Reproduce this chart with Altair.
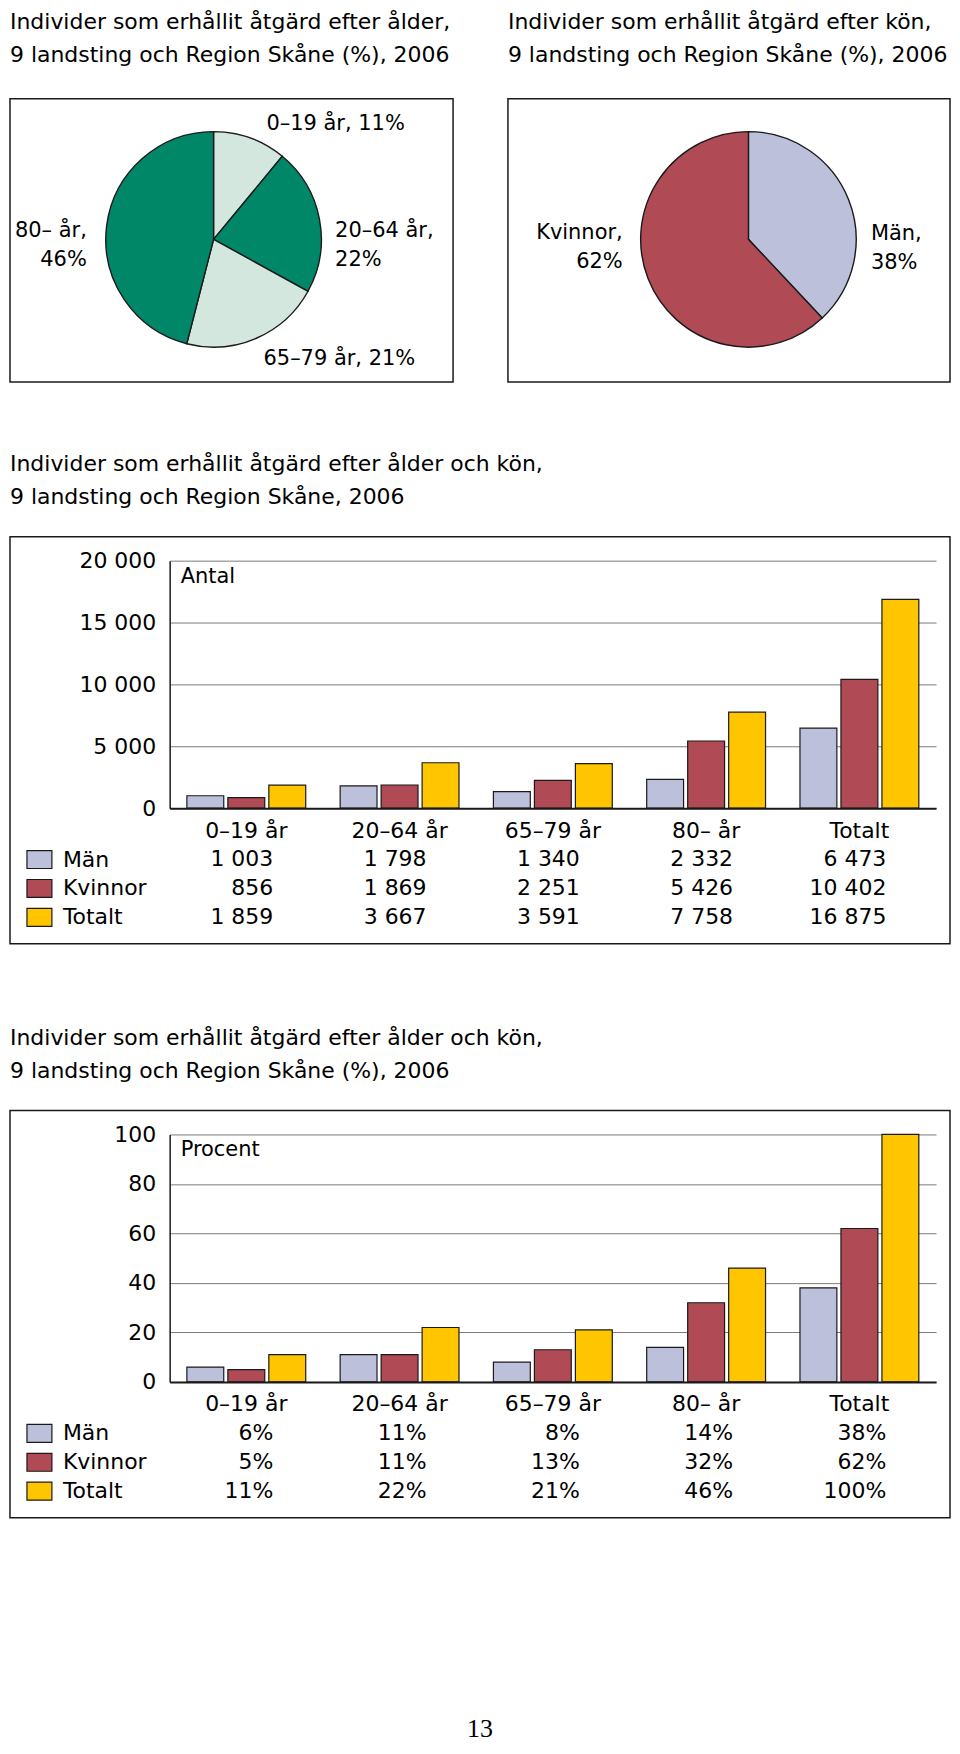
import altair as alt
import pandas as pd

FONT = "DejaVu Sans"
INK = "#1a1a1a"

# ---------------- data ----------------
age_groups = ["0–19 år", "20–64 år", "65–79 år", "80– år"]
age_share = [11, 22, 21, 46]
age_label_sep = [", ", ",\n", ", ", ",\n"]
age_colors = ["#d4e7df", "#008767", "#d4e7df", "#008767"]

sex_groups = ["Män", "Kvinnor"]
sex_share = [38, 62]
sex_label_sep = [",\n", ",\n"]

bar_categories = ["0–19 år", "20–64 år", "65–79 år", "80– år", "Totalt"]
series = ["Män", "Kvinnor", "Totalt"]
series_colors = ["#bcc0da", "#b04a54", "#ffc600"]

count_man = [1003, 1798, 1340, 2332, 6473]
count_kvinnor = [856, 1869, 2251, 5426, 10402]
count_totalt = [1859, 3667, 3591, 7758, 16875]

pct_man = [6, 11, 8, 14, 38]
pct_kvinnor = [5, 11, 13, 32, 62]
pct_totalt = [11, 22, 21, 46, 100]

count_ticks = [0, 5000, 10000, 15000, 20000]
pct_ticks = [0, 20, 40, 60, 80, 100]

title_age = ["Individer som erhållit åtgärd efter ålder,", "9 landsting och Region Skåne (%), 2006"]
title_sex = ["Individer som erhållit åtgärd efter kön,", "9 landsting och Region Skåne (%), 2006"]
title_count = ["Individer som erhållit åtgärd efter ålder och kön,", "9 landsting och Region Skåne, 2006"]
title_pct = ["Individer som erhållit åtgärd efter ålder och kön,", "9 landsting och Region Skåne (%), 2006"]
count_corner = ["Antal"]
pct_corner = ["Procent"]
page_number = ["13"]

TITLE_SIZE = 22
LABEL_SIZE = 22
PIE_LABEL_SIZE = 21
PIE_CY = 141
RIGHT = 782  # right edge of the frames, in view pixels


def one_row(**kw):
    return pd.DataFrame({k: [v] for k, v in kw.items()})


def frame(x1, x2, y1, y2):
    return alt.Chart(one_row(k=0)).mark_rect(
        fill="white", fillOpacity=0, stroke=INK, strokeWidth=1.5).encode(
        x=alt.value(x1), x2=alt.value(x2), y=alt.value(y1), y2=alt.value(y2))


def title_text(lines, x, y):
    marks = []
    for i, line in enumerate(lines):
        marks.append(alt.Chart(one_row(t=line)).mark_text(
            align="left", baseline="middle", font=FONT, fontSize=TITLE_SIZE,
            color="black").encode(x=alt.value(x), y=alt.value(y + 33 * i), text="t:N"))
    return marks


def pie_layers(cats, vals, seps, colors, cx, label_specs):
    df = pd.DataFrame({"cat": cats, "v": vals, "idx": list(range(len(cats))),
                       "label": [f"{c}{s}{v}%" for c, s, v in zip(cats, seps, vals)]})
    theta_scale = alt.Scale(domain=[0, 100])
    base = alt.Chart(df)
    arc = base.mark_arc(radius=108, stroke=INK, strokeWidth=1.4).encode(
        theta=alt.Theta("v:Q", stack=True, scale=theta_scale),
        order=alt.Order("idx:Q"),
        color=alt.Color("cat:N", scale=alt.Scale(domain=cats, range=colors), legend=None),
        x=alt.value(cx), y=alt.value(PIE_CY),
    )
    layers = [arc]
    for i, (r, align, dx, dy) in enumerate(label_specs):
        t = (base.transform_window(cum="sum(v)", sort=[alt.SortField("idx", order="ascending")])
             .transform_calculate(mid="datum.cum - datum.v / 2")
             .transform_filter(f"datum.idx == {i}")
             .mark_text(radius=r, align=align, baseline="middle", dx=dx, dy=dy, font=FONT,
                        fontSize=PIE_LABEL_SIZE, lineBreak="\n", lineHeight=29, color="black")
             .encode(theta=alt.Theta("mid:Q", stack=False, scale=theta_scale),
                     x=alt.value(cx), y=alt.value(PIE_CY), text="label:N"))
        layers.append(t)
    return layers


pie_row = alt.layer(
    frame(-160, 284, 0, 284),
    frame(339, RIGHT, 0, 284),
    *pie_layers(age_groups, age_share, age_label_sep, age_colors, 44,
                [(124, "left", 11, 1), (124, "left", 0, 15), (126, "left", 0, 4),
                 (128, "right", 0, 8)]),
    *pie_layers(sex_groups, sex_share, sex_label_sep, series_colors[:2], 580,
                [(132, "left", 0, 43), (135.5, "right", 0, -56)]),
    *title_text(title_age, -160, -77),
    *title_text(title_sex, 339, -77),
).resolve_scale(color="independent", theta="independent").properties(width=768, height=284)


def bar_panel(value_lists, ticks, label_fmt, tick_expr, corner, title, extra=None):
    rows = []
    for s, vals in zip(series, value_lists):
        for c, v in zip(bar_categories, vals):
            rows.append({"cat": c, "series": s, "value": v, "label": label_fmt(v)})
    df = pd.DataFrame(rows)
    x = alt.X("cat:N", sort=bar_categories,
              scale=alt.Scale(domain=bar_categories, paddingInner=0, paddingOuter=0),
              axis=alt.Axis(title=None, ticks=False, tickSize=0, labelAngle=0, labelFont=FONT,
                            labelFontSize=LABEL_SIZE, labelColor="black", labelPadding=22,
                            labelBaseline="middle", domainColor=INK, domainWidth=2, grid=False,
                            zindex=1))
    base = alt.Chart(df).encode(x=x)
    bars = base.mark_bar(stroke=INK, strokeWidth=1.2).encode(
        y=alt.Y("value:Q", scale=alt.Scale(domain=[0, ticks[-1]], nice=False),
                axis=alt.Axis(title=None, values=ticks, ticks=False, tickSize=0, labelFont=FONT,
                              labelFontSize=LABEL_SIZE, labelColor="black", labelPadding=14,
                              grid=True, gridColor="#7a7a7a", gridWidth=1, domainColor=INK,
                              domainWidth=1.5, labelExpr=tick_expr)),
        xOffset=alt.XOffset("series:N", sort=series,
                            scale=alt.Scale(domain=series, paddingInner=0.1, paddingOuter=0.42)),
        color=alt.Color("series:N", sort=series,
                        scale=alt.Scale(domain=series, range=series_colors),
                        legend=alt.Legend(title=None, orient="none", legendX=-144, legendY=286,
                                          direction="vertical",
                                          symbolType="M-1,-0.72H1V0.72H-1Z", symbolSize=625,
                                          symbolStrokeColor=INK, symbolStrokeWidth=1.2,
                                          symbolOpacity=1, labelFont=FONT,
                                          labelFontSize=LABEL_SIZE, labelColor="black",
                                          labelOffset=10, rowPadding=4, padding=0)),
    )
    layers = [frame(-160, RIGHT, -24, 384), bars]
    row_y = [299, 328, 357]
    for s, ry in zip(series, row_y):
        layers.append(base.transform_filter(alt.datum.series == s).mark_text(
            align="right", baseline="middle", dx=27, font=FONT, fontSize=LABEL_SIZE,
            color="black").encode(y=alt.value(ry), text="label:N"))
    layers.append(alt.Chart(pd.DataFrame({"t": corner})).mark_text(
        align="left", baseline="middle", font=FONT, fontSize=21, color="black").encode(
        x=alt.value(11), y=alt.value(16), text="t:N"))
    layers.extend(title_text(title, -160, -97))
    if extra is not None:
        layers.append(extra)
    return alt.layer(*layers).properties(width=768, height=248)


def spacer(h):
    return alt.Chart(one_row(k=0)).mark_point(opacity=0).encode(
        x=alt.value(0), y=alt.value(0)).properties(width=1, height=h)


def thousands(v):
    return f"{v:,}".replace(",", " ")


page_mark = alt.Chart(pd.DataFrame({"p": page_number})).mark_text(
    align="center", baseline="middle", font="Liberation Serif", fontSize=26, color="black").encode(
    x=alt.value(311), y=alt.value(596), text="p:N")

count_chart = bar_panel([count_man, count_kvinnor, count_totalt], count_ticks, thousands,
                        "replace(format(datum.value, ','), ',', ' ')", count_corner, title_count)
pct_chart = bar_panel([pct_man, pct_kvinnor, pct_totalt], pct_ticks, lambda v: f"{v}%",
                      "datum.label", pct_corner, title_pct, extra=page_mark)

chart = alt.vconcat(pie_row, spacer(179), count_chart, spacer(327), pct_chart, spacing=0,
                    bounds="flush").resolve_scale(
    color="independent", theta="independent", x="independent", y="independent").resolve_legend(
    color="independent").properties(padding=0).configure(font=FONT).configure_view(
    stroke="transparent")

chart.save("out.html", embed_options={"renderer": "svg", "actions": False})
